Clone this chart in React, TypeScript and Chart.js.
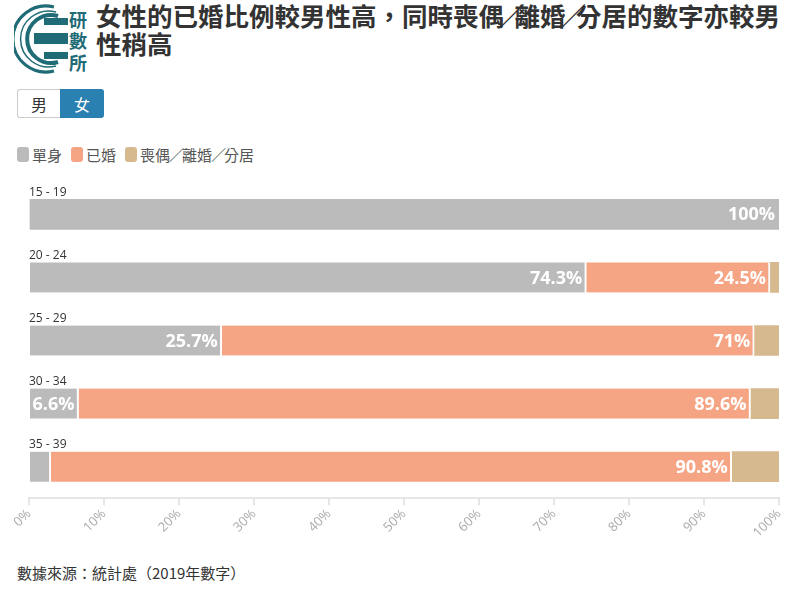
import React, { useEffect, useRef } from "react";
import { Chart, registerables } from "chart.js";

Chart.register(...registerables);

const categories = ["15 - 19", "20 - 24", "25 - 29", "30 - 34", "35 - 39"];
const singleValues = [100, 74.3, 25.7, 6.6, 2.9];
const marriedValues = [0, 24.5, 71, 89.6, 90.8];
const widowedValues = [0, 1.2, 3.3, 3.8, 6.3];
const seriesNames = ["單身", "已婚", "喪偶／離婚／分居"];
const seriesColors = ["#bcbbbb", "#f6a584", "#d6b98e"];
const labelledSeries = [0, 1];
const xTicks = [0, 10, 20, 30, 40, 50, 60, 70, 80, 90, 100];

const titleLine1 = "女性的已婚比例較男性高，同時喪偶／離婚／分居的數字亦較男";
const titleLine2 = "性稍高";
const sourceText = "數據來源：統計處（2019年數字）";

const CJK = '"Noto Sans CJK TC", "Noto Sans", sans-serif';
const allSeries = [singleValues, marriedValues, widowedValues];

function NarrowSlash({ text, spacing }: { text: string; spacing: number }) {
  const parts = text.split("／");
  const out: any[] = [];
  parts.forEach((p, i) => {
    out.push(<span key={"p" + i}>{p}</span>);
    if (i < parts.length - 1)
      out.push(
        <span key={"s" + i} style={{ letterSpacing: spacing, marginLeft: spacing / 2 }}>
          ／
        </span>
      );
  });
  return <>{out}</>;
}

const labelPlugin = {
  id: "customLabels",
  afterDatasetsDraw(chart: any) {
    const ctx = chart.ctx;
    ctx.save();
    const meta0 = chart.getDatasetMeta(0);
    ctx.font = '12px "Open Sans", sans-serif';
    ctx.fillStyle = "#333333";
    ctx.textAlign = "left";
    ctx.textBaseline = "alphabetic";
    meta0.data.forEach((bar: any, i: number) => {
      const top = bar.y - bar.height / 2;
      ctx.fillText(categories[i], chart.chartArea.left, top - 3.5);
    });
    ctx.font = 'bold 18px "Open Sans", sans-serif';
    ctx.fillStyle = "#ffffff";
    ctx.textAlign = "right";
    ctx.textBaseline = "middle";
    labelledSeries.forEach((di) => {
      const meta = chart.getDatasetMeta(di);
      const values = chart.data.datasets[di].data as number[];
      meta.data.forEach((bar: any, i: number) => {
        const v = values[i];
        if (!v) return;
        const txt = String(v) + "%";
        const w = ctx.measureText(txt).width;
        const left = Math.min(bar.x, bar.base);
        const right = Math.max(bar.x, bar.base);
        if (right - left < w + 6) return;
        ctx.fillText(txt, right - 4, bar.y + 1);
      });
    });
    ctx.restore();
  },
};

function Logo() {
  const teal = "#1f6b76";
  return (
    <svg
      width={76}
      height={70}
      viewBox="0 0 76 70"
      style={{ position: "absolute", left: 14, top: 4 }}
    >
      <path d="M 40 3 A 33 33 0 1 0 40 67" fill="none" stroke={teal} strokeWidth={3} />
      <path d="M 42 8 A 28 28 0 1 0 42 62" fill="none" stroke={teal} strokeWidth={1.5} />
      <path d="M 44 12 A 24 24 0 1 0 44 58" fill="none" stroke={teal} strokeWidth={4} />
      <rect x={30} y={14} width={24} height={7} fill={teal} />
      <rect x={20} y={29} width={34} height={11} fill={teal} />
      <rect x={30} y={48} width={24} height={7} fill={teal} />
      <text x={55} y={23} fontSize={18} fontWeight={700} fill={teal} fontFamily={CJK}>研</text>
      <text x={55} y={44} fontSize={18} fontWeight={700} fill={teal} fontFamily={CJK}>數</text>
      <text x={55} y={66} fontSize={18} fontWeight={700} fill={teal} fontFamily={CJK}>所</text>
    </svg>
  );
}

export default function App() {
  const canvasRef = useRef<HTMLCanvasElement | null>(null);

  useEffect(() => {
    if (!canvasRef.current) return;
    const chart = new Chart(canvasRef.current, {
      type: "bar",
      data: {
        labels: categories,
        datasets: allSeries.map((d, i) => ({
          label: seriesNames[i],
          data: d,
          backgroundColor: seriesColors[i],
          borderColor: "#ffffff",
          borderWidth: (c: any) => {
            const idx = c.dataIndex;
            let hasLater = false;
            for (let k = i + 1; k < allSeries.length; k++) {
              if (allSeries[k][idx] > 0) hasLater = true;
            }
            return { top: 0, bottom: 0, left: 0, right: hasLater ? 2 : 0 };
          },
          borderSkipped: false,
          barThickness: 30,
        })),
      },
      options: {
        indexAxis: "y",
        responsive: false,
        animation: false,
        layout: { padding: { left: 29, right: 27, top: 12.75, bottom: 0 } },
        plugins: { legend: { display: false }, tooltip: { enabled: false } },
        scales: {
          y: { display: false, stacked: true },
          x: {
            stacked: true,
            min: 0,
            max: 100,
            afterBuildTicks: (scale: any) => {
              scale.ticks = xTicks.map((v) => ({ value: v }));
            },
            afterFit: (scale: any) => {
              scale.height = 61.75;
            },
            ticks: {
              autoSkip: false,
              minRotation: 45,
              maxRotation: 45,
              color: "#aaaaaa",
              font: { family: '"Open Sans", sans-serif', size: 13 },
              padding: 1,
              callback: (v: any) => v + "%",
            },
            grid: {
              drawOnChartArea: false,
              drawTicks: true,
              tickLength: 7,
              color: "#e6e6e6",
              lineWidth: 2,
            },
            border: { display: true, color: "#e6e6e6", width: 2 },
          },
        },
      },
      plugins: [labelPlugin],
    } as any);
    return () => chart.destroy();
  }, []);

  return (
    <div
      style={{
        position: "absolute",
        left: 0,
        top: 0,
        width: 806,
        height: 593,
        background: "#ffffff",
        overflow: "hidden",
        fontFamily: CJK,
      }}
    >
      <Logo />
      <div
        style={{
          position: "absolute",
          left: 96,
          top: 1,
          fontSize: 25.5,
          lineHeight: "28px",
          fontWeight: 700,
          color: "#333333",
          whiteSpace: "nowrap",
        }}
      >
        <div>
          <NarrowSlash text={titleLine1} spacing={-10} />
        </div>
        <div>{titleLine2}</div>
      </div>
      <div
        style={{
          position: "absolute",
          left: 17,
          top: 89,
          height: 29,
          display: "flex",
          fontSize: 16,
        }}
      >
        <div
          style={{
            width: 42,
            height: 27,
            border: "1px solid #cccccc",
            borderRight: "none",
            borderRadius: "3px 0 0 3px",
            color: "#333",
            display: "flex",
            alignItems: "center",
            justifyContent: "center",
          }}
        >
          男
        </div>
        <div
          style={{
            width: 44,
            height: 29,
            background: "#2a80b1",
            borderRadius: "0 3px 3px 0",
            color: "#ffffff",
            display: "flex",
            alignItems: "center",
            justifyContent: "center",
          }}
        >
          女
        </div>
      </div>
      <div
        style={{
          position: "absolute",
          left: 17,
          top: 144,
          height: 20,
          display: "flex",
          alignItems: "center",
          fontSize: 15,
          color: "#555555",
        }}
      >
        {seriesNames.map((n, i) => (
          <div key={n} style={{ display: "flex", alignItems: "center", marginRight: 9 }}>
            <span
              style={{
                display: "inline-block",
                width: 12,
                height: 15,
                borderRadius: 3,
                background: seriesColors[i],
                marginRight: 3,
              }}
            />
            <span>
              <NarrowSlash text={n} spacing={-2} />
            </span>
          </div>
        ))}
      </div>
      <canvas
        ref={canvasRef}
        width={806}
        height={390}
        style={{ position: "absolute", left: 0, top: 170, width: 806, height: 390 }}
      />
      <div
        style={{
          position: "absolute",
          left: 17,
          top: 562,
          fontSize: 15,
          lineHeight: "22px",
          color: "#333333",
          whiteSpace: "nowrap",
        }}
      >
        {sourceText}
      </div>
    </div>
  );
}
